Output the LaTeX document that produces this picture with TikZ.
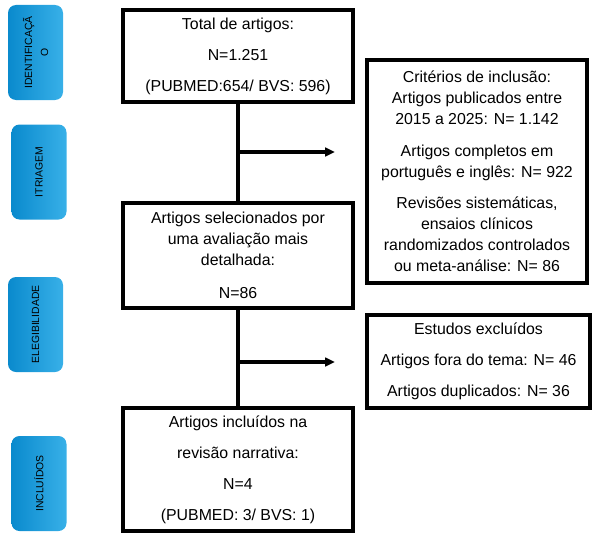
\documentclass[tikz,border=0pt]{standalone}
\usepackage{fontspec}
\setmainfont{Liberation Sans}
\usepackage{tikz}
\usetikzlibrary{arrows.meta}
\definecolor{stagetop}{RGB}{56,176,232}
\definecolor{stagebot}{RGB}{10,138,205}
\definecolor{ink}{RGB}{0,0,0}

\begin{document}
\begin{tikzpicture}[x=0.75pt,y=-0.75pt,
  flowbox/.style={draw=ink,line width=2.4pt,align=center,inner sep=0pt,font=\fontsize{11.9}{15.75}\selectfont},
  stagetag/.style={rounded corners=6pt,top color=stagetop,bottom color=stagebot,shading angle=-90,draw=none,minimum width=71.25pt,minimum height=41.25pt,rotate=90,align=center,inner sep=0pt,font=\fontsize{7.8}{12}\selectfont},
  flowline/.style={line width=2.4pt,color=ink},
  flowarrow/.style={flowline,-{Triangle[length=7.5pt,width=6.5pt]}}]
  \useasboundingbox (0,0) rectangle (599,535);

  \node[stagetag] (ident) at (35.5,52.5) {IDENTIFICAÇÃ\\O};
  \node[stagetag] (triag) at (39,172) {ITRIAGEM};
  \node[stagetag] (eleg) at (35.5,324.5) {ELEGIBILIDADE};
  \node[stagetag] (inclu) at (39,483.5) {INCLUÍDOS};

  \node[flowbox,minimum width=172.5pt,minimum height=69pt] (total) at (238,56) {Total de artigos:\\[7.5pt]N=1.251\\[7.5pt](PUBMED:654/ BVS: 596)};
  \node[flowbox,minimum width=172.5pt,minimum height=78.75pt] (select) at (238,255.5) {Artigos selecionados por\\uma avaliação mais\\detalhada:\\[9pt]N=86};
  \node[flowbox,minimum width=172.5pt,minimum height=92.25pt] (final) at (238,469.5) {Artigos incluídos na\\[7.5pt]revisão narrativa:\\[7.5pt]N=4\\[7.5pt](PUBMED: 3/ BVS: 1)};

  \node[flowbox,minimum width=165pt,minimum height=167.25pt] (crit) at (477,171.5) {Critérios de inclusão:\\Artigos publicados entre\\2015 a 2025: N= 1.142\\[8pt]Artigos completos em\\português e inglês: N= 922\\[8pt]Revisões sistemáticas,\\ensaios clínicos\\randomizados controlados\\ou meta-análise: N= 86};
  \node[flowbox,minimum width=167.25pt,minimum height=69.75pt] (excl) at (478.5,361.5) {Estudos excluídos\\[7.5pt]Artigos fora do tema: N= 46\\[7.5pt]Artigos duplicados: N= 36};

  \draw[flowline] (total) -- (select);
  \draw[flowline] (select) -- (final);
  \coordinate (j1) at (238,152);
  \coordinate (t1) at (335,152);
  \coordinate (j2) at (238,362);
  \coordinate (t2) at (335,362);
  \draw[flowarrow] (j1) -- (t1);
  \draw[flowarrow] (j2) -- (t2);
\end{tikzpicture}
\end{document}
